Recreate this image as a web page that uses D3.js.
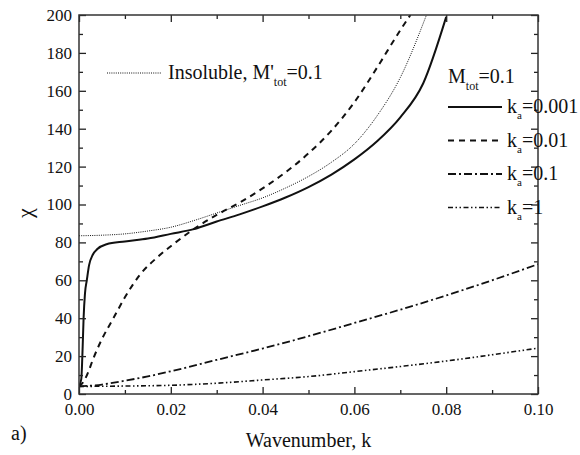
<!DOCTYPE html>
<html>
<head>
<meta charset="utf-8">
<script src="https://cdn.jsdelivr.net/npm/d3@7"></script>
<style>
  body { margin: 0; background: #fff; }
</style>
</head>
<body>
<div id="chart"></div>
<script>
// wavenumber k and chi values
const kSolid = [0, 0.0005, 0.0008, 0.001, 0.0013, 0.0017, 0.0022, 0.003, 0.004, 0.006, 0.01, 0.015, 0.02, 0.025, 0.03, 0.035, 0.04, 0.045, 0.05, 0.055, 0.06, 0.065, 0.07, 0.075, 0.08]
const chiSolid = [4, 8, 25, 40, 53, 60, 68, 73.5, 76.5, 79, 80.5, 82, 84.5, 87, 91, 94.8, 99, 103.7, 109.2, 115.8, 123.8, 133.5, 146, 164, 199]

const kDashed = [0, 0.001, 0.002, 0.003, 0.005, 0.0075, 0.01, 0.0133, 0.017, 0.02, 0.025, 0.03, 0.035, 0.04, 0.045, 0.05, 0.055, 0.06, 0.065, 0.07, 0.0722]
const chiDashed = [4, 6.5, 11.5, 18, 29, 40, 51, 63, 72, 78, 87, 94.5, 101, 108.5, 117, 127, 139, 154, 172.5, 192, 200]

const kInsol = [0, 0.005, 0.01, 0.015, 0.02, 0.025, 0.03, 0.035, 0.04, 0.045, 0.05, 0.055, 0.06, 0.065, 0.07, 0.0757]
const chiInsol = [83.5, 83.8, 84.5, 86, 88, 91.5, 95.5, 99.5, 103.5, 108.7, 114.8, 122.3, 132, 147, 167, 200]

const kDashDot = [0, 0.005, 0.01, 0.015, 0.02, 0.03, 0.04, 0.05, 0.06, 0.07, 0.08, 0.09, 0.1]
const chiDashDot = [4, 5, 7, 9.3, 12, 18, 24, 30.5, 37.5, 44.5, 52, 60, 68.5]

const kDashDotDot = [0, 0.01, 0.02, 0.03, 0.04, 0.05, 0.06, 0.07, 0.08, 0.09, 0.1]
const chiDashDotDot = [4, 4.2, 4.6, 5.7, 7.4, 9.2, 11.8, 14.5, 17.4, 20.7, 24.2]

const xTicks = [0, 0.02, 0.04, 0.06, 0.08, 0.1]
const xMinor = [0.01, 0.03, 0.05, 0.07, 0.09]
const yTicks = [0, 20, 40, 60, 80, 100, 120, 140, 160, 180, 200]
const yMinor = [10, 30, 50, 70, 90, 110, 130, 150, 170, 190]

const legendLabels = ["0.001", "0.01", "0.1", "1"]

const width = 580
const height = 455
const margin = {top: 15, right: 42, bottom: 61, left: 79}
const w = width - margin.left - margin.right
const h = height - margin.top - margin.bottom

const svg = d3.select("#chart").append("svg")
    .attr("width", width)
    .attr("height", height)

const g = svg.append("g")
    .attr("transform", "translate(" + margin.left + "," + margin.top + ")")

const x = d3.scaleLinear().domain([0, 0.1]).range([0, w])
const y = d3.scaleLinear().domain([0, 200]).range([h, 0])

g.append("clipPath").attr("id", "clip")
    .append("rect").attr("width", w).attr("height", h)

const styles = [
    {k: kSolid, v: chiSolid, dash: null, sw: 2},
    {k: kDashed, v: chiDashed, dash: "6,5", sw: 2},
    {k: kDashDot, v: chiDashDot, dash: "8,3,2,3", sw: 1.8},
    {k: kDashDotDot, v: chiDashDotDot, dash: "5,2.5,1.5,2.5,1.5,2.5", sw: 1.6}
]
const insol = {k: kInsol, v: chiInsol, dash: "1,1.2", sw: 1}

const line = d3.line()
    .x(d => x(d[0]))
    .y(d => y(d[1]))
    .curve(d3.curveMonotoneX)

const curves = g.append("g").attr("clip-path", "url(#clip)")
styles.concat([insol]).forEach(s => {
    curves.append("path")
        .datum(d3.zip(s.k, s.v))
        .attr("d", line)
        .attr("fill", "none")
        .attr("stroke", "#111")
        .attr("stroke-width", s.sw)
        .attr("stroke-dasharray", s.dash)
})

// axes, ticks inward on all four sides
function styleAxis(sel) {
    sel.attr("font-family", "Liberation Serif").attr("font-size", 17)
    sel.select(".domain").remove()
    sel.selectAll("line").attr("stroke", "#222").attr("stroke-width", 1.3)
    sel.selectAll("text").attr("fill", "#111")
}

g.append("g").attr("transform", "translate(0," + h + ")")
    .call(d3.axisBottom(x).tickValues(xTicks).tickSize(-7).tickPadding(9)
        .tickFormat(d3.format(".2f")))
    .call(styleAxis)
g.append("g").attr("transform", "translate(0," + h + ")")
    .call(d3.axisBottom(x).tickValues(xMinor).tickSize(-4).tickFormat(""))
    .call(styleAxis)
g.append("g")
    .call(d3.axisTop(x).tickValues(xTicks).tickSize(-7).tickFormat(""))
    .call(styleAxis)
g.append("g")
    .call(d3.axisTop(x).tickValues(xMinor).tickSize(-4).tickFormat(""))
    .call(styleAxis)

g.append("g")
    .call(d3.axisLeft(y).tickValues(yTicks).tickSize(-7).tickPadding(7))
    .call(styleAxis)
g.append("g")
    .call(d3.axisLeft(y).tickValues(yMinor).tickSize(-4).tickFormat(""))
    .call(styleAxis)
g.append("g").attr("transform", "translate(" + w + ",0)")
    .call(d3.axisRight(y).tickValues(yTicks).tickSize(-7).tickFormat(""))
    .call(styleAxis)
g.append("g").attr("transform", "translate(" + w + ",0)")
    .call(d3.axisRight(y).tickValues(yMinor).tickSize(-4).tickFormat(""))
    .call(styleAxis)

g.append("rect")
    .attr("width", w).attr("height", h)
    .attr("fill", "none")
    .attr("stroke", "#333")
    .attr("stroke-width", 1.5)

// titles and legends, all serif
const labels = svg.append("g")
    .style("font-family", "Liberation Serif")
    .attr("fill", "#111")

labels.append("text")
    .attr("x", margin.left + w / 2)
    .attr("y", 447)
    .attr("text-anchor", "middle")
    .style("font-size", "20px")
    .text("Wavenumber, k")

labels.append("text")
    .attr("transform", "translate(32,213) rotate(-90)")
    .attr("text-anchor", "middle")
    .style("font-size", "22px")
    .text("χ")

labels.append("text")
    .attr("x", 11).attr("y", 440)
    .style("font-size", "20px")
    .text("a)")

// insoluble legend
labels.append("line")
    .attr("x1", 107).attr("x2", 161).attr("y1", 73).attr("y2", 73)
    .attr("stroke", "#111").attr("stroke-width", 1).attr("stroke-dasharray", insol.dash)
const t1 = labels.append("text").attr("x", 168).attr("y", 79).style("font-size", "20px")
t1.append("tspan").text("Insoluble, M'")
t1.append("tspan").attr("dy", 7).style("font-size", "12px").text("tot")
t1.append("tspan").attr("dy", -7).text("=0.1")

// M_tot legend
const t2 = labels.append("text").attr("x", 448).attr("y", 83).style("font-size", "20px")
t2.append("tspan").text("M")
t2.append("tspan").attr("dy", 7).style("font-size", "12px").text("tot")
t2.append("tspan").attr("dy", -7).text("=0.1")

styles.forEach((s, i) => {
    const yy = 107 + i * 33.5
    labels.append("line")
        .attr("x1", 448).attr("x2", 502).attr("y1", yy).attr("y2", yy)
        .attr("stroke", "#111").attr("stroke-width", s.sw)
        .attr("stroke-dasharray", s.dash)
    const t = labels.append("text").attr("x", 507).attr("y", yy + 6).style("font-size", "20px")
    t.append("tspan").text("k")
    t.append("tspan").attr("dy", 6).style("font-size", "11px").text("a")
    t.append("tspan").attr("dy", -6).text("=" + legendLabels[i])
})
</script>
</body>
</html>
